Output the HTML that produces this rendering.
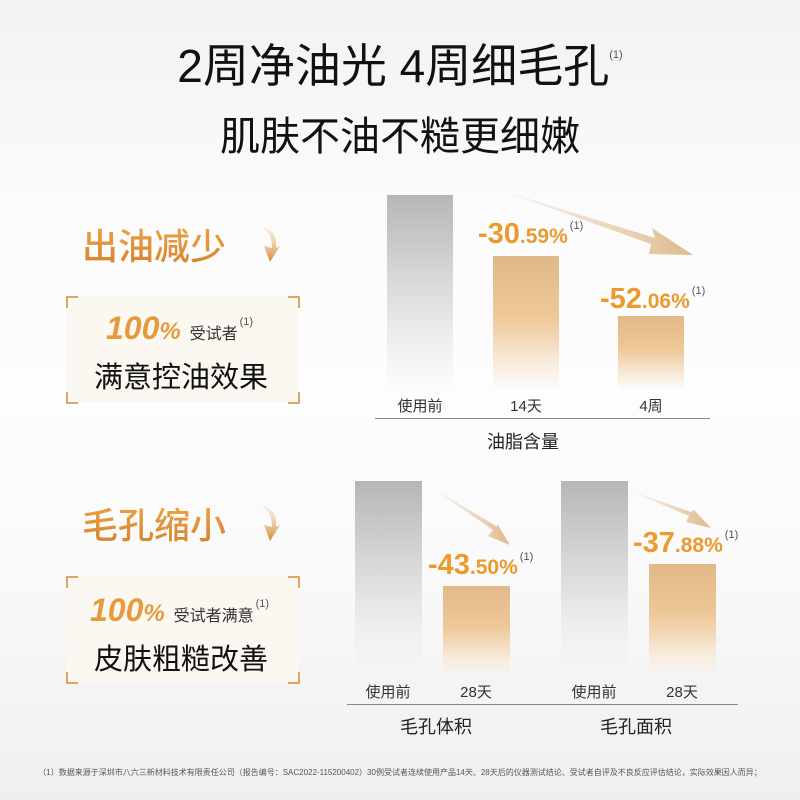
<!DOCTYPE html><html><head><meta charset="utf-8"><style>
body{margin:0;width:800px;height:800px;overflow:hidden;position:relative;font-family:"Liberation Sans","Noto Sans CJK SC",sans-serif;background:linear-gradient(180deg,#f3f2f1 0%,#fbfbfb 25%,#fdfdfd 50%,#fafafa 70%,#f0efee 100%);}
.a{position:absolute;white-space:nowrap}
.g{position:absolute;background:linear-gradient(180deg,#b6b6b6 0%,#d8d6d4 40%,#f1efed 75%,rgba(252,252,252,0) 100%)}
.o{position:absolute;background:linear-gradient(180deg,#e1b889 0%,#eec898 45%,#f8ebdc 80%,rgba(252,250,247,0) 100%)}
.pc{color:#ea9a2e;font-weight:bold}
.sup{font-size:11px;color:#555;vertical-align:baseline;position:relative;top:-14px;margin-left:2px;font-weight:normal;font-style:normal}
.lb{font-size:15px;color:#333;text-align:center;width:80px}
.hd{font-size:36px;font-weight:500;background:linear-gradient(180deg,#efa84a,#d4802a);-webkit-background-clip:text;color:transparent}
.box{position:absolute;background:#fbf7f1}
.c{position:absolute;width:10px;height:10px;border-color:#d9a866;border-style:solid;border-width:0}
</style></head><body>
<div class="a" style="left:0;width:800px;text-align:center;top:30px;font-size:46px;color:#111">2周净油光 4周细毛孔<span style="font-size:11px;color:#555;position:relative;top:-24px">(1)</span></div>
<div class="a" style="left:0;width:800px;text-align:center;top:104px;font-size:40px;color:#111">肌肤不油不糙更细嫩</div>

<svg class="a" style="left:0;top:0" width="800" height="800"><defs>
<linearGradient id="ar" x1="0" x2="1"><stop offset="0" stop-color="#e8cfae" stop-opacity=".2"/><stop offset="1" stop-color="#dfb98c"/></linearGradient>
<linearGradient id="dn" x1="0" y1="0" x2="0" y2="1"><stop offset="0" stop-color="#f3d9b8" stop-opacity=".3"/><stop offset="1" stop-color="#d58a30"/></linearGradient></defs>
<path d="M258,226 Q272,230 272,248 L264,246 L270,262 L280,246 L276,248 Q278,228 258,226 Z" fill="url(#dn)"/>
<path d="M258,505 Q272,509 272,527 L264,525 L270,541 L280,525 L276,527 Q278,507 258,505 Z" fill="url(#dn)"/>
</svg>

<div class="a hd" style="left:82px;top:218px">出油减少</div>
<div class="box" style="left:66px;top:296px;width:232px;height:106px"></div>
<div class="c" style="left:66px;top:296px;border-top-width:2px;border-left-width:2px"></div>
<div class="c" style="left:288px;top:296px;border-top-width:2px;border-right-width:2px"></div>
<div class="c" style="left:66px;top:392px;border-bottom-width:2px;border-left-width:2px"></div>
<div class="c" style="left:288px;top:392px;border-bottom-width:2px;border-right-width:2px"></div>
<div class="a" style="left:106px;top:310px;font-size:32px;font-style:italic;font-weight:bold;color:#e59b3c">100<span style="font-size:24px">%</span> <span style="font-size:16px;color:#333;font-style:normal;font-weight:normal">受试者</span><span class="sup">(1)</span></div>
<div class="a" style="left:94px;top:354px;font-size:29px;color:#111">满意控油效果</div>

<div class="a hd" style="left:82px;top:497px">毛孔缩小</div>
<div class="box" style="left:66px;top:576px;width:232px;height:106px"></div>
<div class="c" style="left:66px;top:576px;border-top-width:2px;border-left-width:2px"></div>
<div class="c" style="left:288px;top:576px;border-top-width:2px;border-right-width:2px"></div>
<div class="c" style="left:66px;top:672px;border-bottom-width:2px;border-left-width:2px"></div>
<div class="c" style="left:288px;top:672px;border-bottom-width:2px;border-right-width:2px"></div>
<div class="a" style="left:90px;top:592px;font-size:32px;font-style:italic;font-weight:bold;color:#e59b3c">100<span style="font-size:24px">%</span> <span style="font-size:16px;color:#333;font-style:normal;font-weight:normal">受试者满意</span><span class="sup">(1)</span></div>
<div class="a" style="left:94px;top:636px;font-size:29px;color:#111">皮肤粗糙改善</div>

<div class="g" style="left:387px;top:195px;width:66px;height:195px"></div>
<div class="o" style="left:493px;top:256px;width:66px;height:134px"></div>
<div class="o" style="left:618px;top:316px;width:66px;height:74px"></div>
<svg class="a" style="left:0;top:0" width="800" height="800">
<polygon points="500,190 655,238 652,228 693,255 649,254 651,244" fill="url(#ar)"/>
<polygon points="432,488 493,530 488,536 510,545 498,525 496,526" fill="url(#ar)"/>
<polygon points="628,490 689,516 686,522 711,528 694,510 691,512" fill="url(#ar)"/>
</svg>
<div class="a pc" style="left:478px;top:218px;font-size:29px">-30<span style="font-size:21px">.59%</span><span class="sup">(1)</span></div>
<div class="a pc" style="left:600px;top:283px;font-size:29px">-52<span style="font-size:21px">.06%</span><span class="sup">(1)</span></div>
<div class="a lb" style="left:380px;top:395px">使用前</div>
<div class="a lb" style="left:486px;top:395px">14天</div>
<div class="a lb" style="left:611px;top:395px">4周</div>
<div class="a" style="left:375px;top:418px;width:335px;height:1px;background:#888"></div>
<div class="a" style="left:487px;top:428px;font-size:18px;color:#222">油脂含量</div>

<div class="g" style="left:355px;top:481px;width:67px;height:196px"></div>
<div class="o" style="left:443px;top:586px;width:67px;height:91px"></div>
<div class="g" style="left:561px;top:481px;width:67px;height:196px"></div>
<div class="o" style="left:649px;top:564px;width:67px;height:113px"></div>
<div class="a pc" style="left:428px;top:549px;font-size:29px">-43<span style="font-size:21px">.50%</span><span class="sup">(1)</span></div>
<div class="a pc" style="left:633px;top:527px;font-size:29px">-37<span style="font-size:21px">.88%</span><span class="sup">(1)</span></div>
<div class="a lb" style="left:348px;top:681px">使用前</div>
<div class="a lb" style="left:436px;top:681px">28天</div>
<div class="a lb" style="left:554px;top:681px">使用前</div>
<div class="a lb" style="left:642px;top:681px">28天</div>
<div class="a" style="left:347px;top:704px;width:391px;height:1px;background:#888"></div>
<div class="a" style="left:400px;top:713px;font-size:18px;color:#222">毛孔体积</div>
<div class="a" style="left:600px;top:713px;font-size:18px;color:#222">毛孔面积</div>

<div class="a" style="left:0;width:800px;text-align:center;top:767px;font-size:8px;color:#555">（1）数据来源于深圳市八六三新材料技术有限责任公司（报告编号：SAC2022-115200402）30例受试者连续使用产品14天、28天后的仪器测试结论、受试者自评及不良反应评估结论，实际效果因人而异；</div>
</body></html>
